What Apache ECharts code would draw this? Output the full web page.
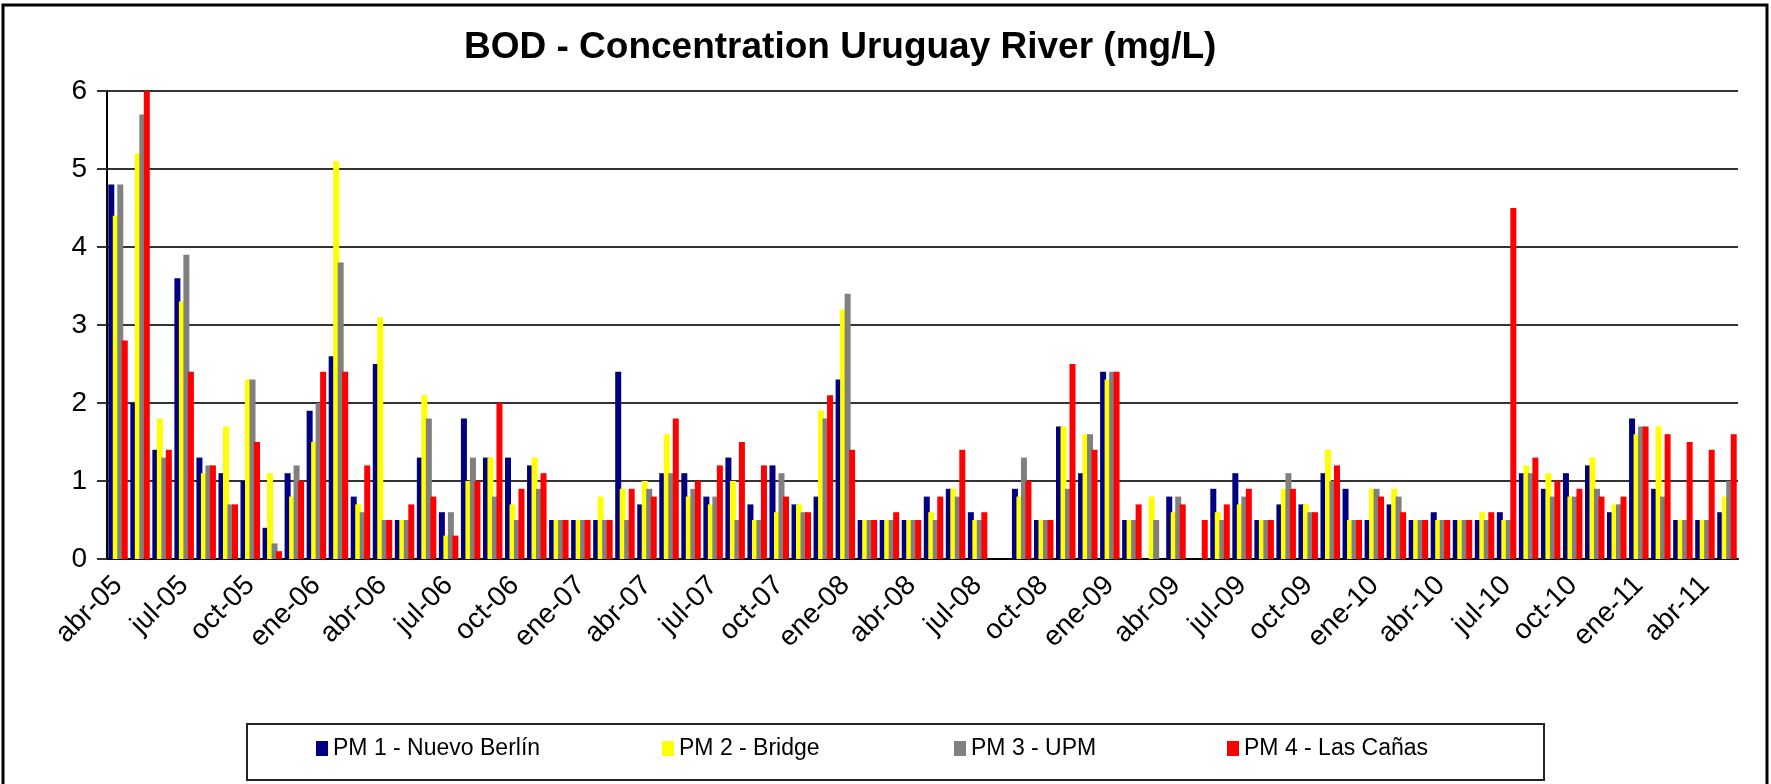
<!DOCTYPE html>
<html>
<head>
<meta charset="utf-8">
<script src="https://cdn.jsdelivr.net/npm/echarts@6/dist/echarts.min.js"></script>
<style>
  html, body { margin: 0; padding: 0; background: #fff; }
  #chart { width: 1771px; height: 784px; }
</style>
</head>
<body>
<div id="chart"></div>
<script>
// monthly samples, abr-05 .. may-11
const months = [
  'abr-05', 'may-05', 'jun-05', 'jul-05', 'ago-05', 'sep-05', 'oct-05', 'nov-05', 'dic-05',
  'ene-06', 'feb-06', 'mar-06', 'abr-06', 'may-06', 'jun-06', 'jul-06', 'ago-06', 'sep-06', 'oct-06', 'nov-06', 'dic-06',
  'ene-07', 'feb-07', 'mar-07', 'abr-07', 'may-07', 'jun-07', 'jul-07', 'ago-07', 'sep-07', 'oct-07', 'nov-07', 'dic-07',
  'ene-08', 'feb-08', 'mar-08', 'abr-08', 'may-08', 'jun-08', 'jul-08', 'ago-08', 'sep-08', 'oct-08', 'nov-08', 'dic-08',
  'ene-09', 'feb-09', 'mar-09', 'abr-09', 'may-09', 'jun-09', 'jul-09', 'ago-09', 'sep-09', 'oct-09', 'nov-09', 'dic-09',
  'ene-10', 'feb-10', 'mar-10', 'abr-10', 'may-10', 'jun-10', 'jul-10', 'ago-10', 'sep-10', 'oct-10', 'nov-10', 'dic-10',
  'ene-11', 'feb-11', 'mar-11', 'abr-11', 'may-11'
]

const seriesNames = ['PM 1 - Nuevo Berlín', 'PM 2 - Bridge', 'PM 3 - UPM', 'PM 4 - Las Cañas']

const pm1 = [
  4.8, 2.0, 1.4, 3.6, 1.3, 1.1, 1.0, 0.4, 1.1,
  1.9, 2.6, 0.8, 2.5, 0.5, 1.3, 0.6, 1.8, 1.3, 1.3, 1.2, 0.5,
  0.5, 0.5, 2.4, 0.7, 1.1, 1.1, 0.8, 1.3, 0.7, 1.2, 0.7, 0.8,
  2.3, 0.5, 0.5, 0.5, 0.8, 0.9, 0.6, null, 0.9, 0.5, 1.7, 1.1,
  2.4, 0.5, null, 0.8, null, 0.9, 1.1, 0.5, 0.7, 0.7, 1.1, 0.9,
  0.5, 0.7, 0.5, 0.6, 0.5, 0.5, 0.6, 1.1, 0.9, 1.1, 1.2, 0.6,
  1.8, 0.9, 0.5, 0.5, 0.6
]
const pm2 = [
  4.4, 5.2, 1.8, 3.3, 1.1, 1.7, 2.3, 1.1, 0.8,
  1.5, 5.1, 0.7, 3.1, 0.5, 2.1, 0.3, 1.0, 1.3, 0.7, 1.3, 0.5,
  0.5, 0.8, 0.9, 1.0, 1.6, 0.8, 0.7, 1.0, 0.5, 0.6, 0.7, 1.9,
  3.2, 0.5, 0.5, 0.5, 0.6, 0.9, 0.5, null, 0.8, 0.5, 1.7, 1.6,
  2.3, 0.5, 0.8, 0.6, null, 0.6, 0.7, 0.5, 0.9, 0.7, 1.4, 0.5,
  0.9, 0.9, 0.5, 0.5, 0.5, 0.6, 0.5, 1.2, 1.1, 0.8, 1.3, 0.7,
  1.6, 1.7, 0.5, 0.5, 0.8
]
const pm3 = [
  4.8, 5.7, 1.3, 3.9, 1.2, 0.7, 2.3, 0.2, 1.2,
  2.0, 3.8, 0.6, 0.5, 0.5, 1.8, 0.6, 1.3, 0.8, 0.5, 0.9, 0.5,
  0.5, 0.5, 0.5, 0.9, 1.1, 0.9, 0.8, 0.5, 0.5, 1.1, 0.6, 1.8,
  3.4, 0.5, 0.5, 0.5, 0.5, 0.8, 0.5, null, 1.3, 0.5, 0.9, 1.6,
  2.4, 0.5, 0.5, 0.8, null, 0.5, 0.8, 0.5, 1.1, 0.6, 1.0, 0.5,
  0.9, 0.8, 0.5, 0.5, 0.5, 0.5, 0.5, 1.1, 0.8, 0.8, 0.9, 0.7,
  1.7, 0.8, 0.5, 0.5, 1.0
]
const pm4 = [
  2.8, 6.0, 1.4, 2.4, 1.2, 0.7, 1.5, 0.1, 1.0,
  2.4, 2.4, 1.2, 0.5, 0.7, 0.8, 0.3, 1.0, 2.0, 0.9, 1.1, 0.5,
  0.5, 0.5, 0.9, 0.8, 1.8, 1.0, 1.2, 1.5, 1.2, 0.8, 0.6, 2.1,
  1.4, 0.5, 0.6, 0.5, 0.8, 1.4, 0.6, null, 1.0, 0.5, 2.5, 1.4,
  2.4, 0.7, null, 0.7, 0.5, 0.7, 0.9, 0.5, 0.9, 0.6, 1.2, 0.5,
  0.8, 0.6, 0.5, 0.5, 0.5, 0.6, 4.5, 1.3, 1.0, 0.9, 0.8, 0.8,
  1.7, 1.6, 1.5, 1.4, 1.6
]

const colors = ['#000080', '#ffff00', '#808080', '#ff0000']
const yMax = 6
const yStep = 1

// half-month tick marks like the original date axis
const halfTicks = new Array(months.length * 2).fill('')

const sans = "'Liberation Sans', Arial, sans-serif"

const chart = echarts.init(document.getElementById('chart'))

const legendLefts = [316, 662, 954, 1227]

chart.setOption({
  animation: false,
  color: colors,
  title: {
    text: 'BOD - Concentration Uruguay River (mg/L)',
    left: 459,
    top: 24,
    textStyle: { fontFamily: sans, fontSize: 37, fontWeight: 'bold', color: '#000' }
  },
  legend: seriesNames.map((name, i) => ({
    data: [name],
    left: legendLefts[i],
    top: 737,
    padding: 0,
    icon: 'rect',
    itemWidth: 12,
    itemHeight: 15,
    textStyle: { fontFamily: sans, fontSize: 23, color: '#000' }
  })),
  graphic: [
    {
      type: 'rect',
      shape: { x: 3, y: 5, width: 1764, height: 800 },
      style: { fill: null, stroke: '#000', lineWidth: 3 },
      silent: true
    },
    {
      type: 'rect',
      shape: { x: 247, y: 724, width: 1297, height: 56 },
      style: { fill: null, stroke: '#222', lineWidth: 2 },
      silent: true
    }
  ],
  grid: { left: 107, right: 33, top: 91, bottom: 225 },
  xAxis: [
    {
      type: 'category',
      data: months,
      axisLine: { lineStyle: { color: '#000', width: 2 } },
      axisTick: { show: false },
      axisLabel: {
        interval: 2,
        rotate: 45,
        margin: 22,
        fontFamily: sans,
        fontSize: 28,
        color: '#000'
      }
    },
    {
      type: 'category',
      data: halfTicks,
      position: 'bottom',
      axisLine: { show: false },
      axisTick: { interval: 0, length: 8, lineStyle: { color: '#000', width: 2 } },
      axisLabel: { show: false }
    }
  ],
  yAxis: {
    type: 'value',
    min: 0,
    max: yMax,
    interval: yStep,
    axisLine: { show: true, lineStyle: { color: '#000', width: 2 } },
    axisTick: { show: true, length: 10, lineStyle: { color: '#333', width: 2 } },
    axisLabel: { margin: 20, fontFamily: sans, fontSize: 28, color: '#000' },
    splitLine: { lineStyle: { color: '#333', width: 2 } }
  },
  series: [pm1, pm2, pm3, pm4].map((vals, i) => ({
    name: seriesNames[i],
    type: 'bar',
    xAxisIndex: 0,
    data: vals,
    barWidth: 6,
    barGap: '-25%'
  }))
})
</script>
</body>
</html>
